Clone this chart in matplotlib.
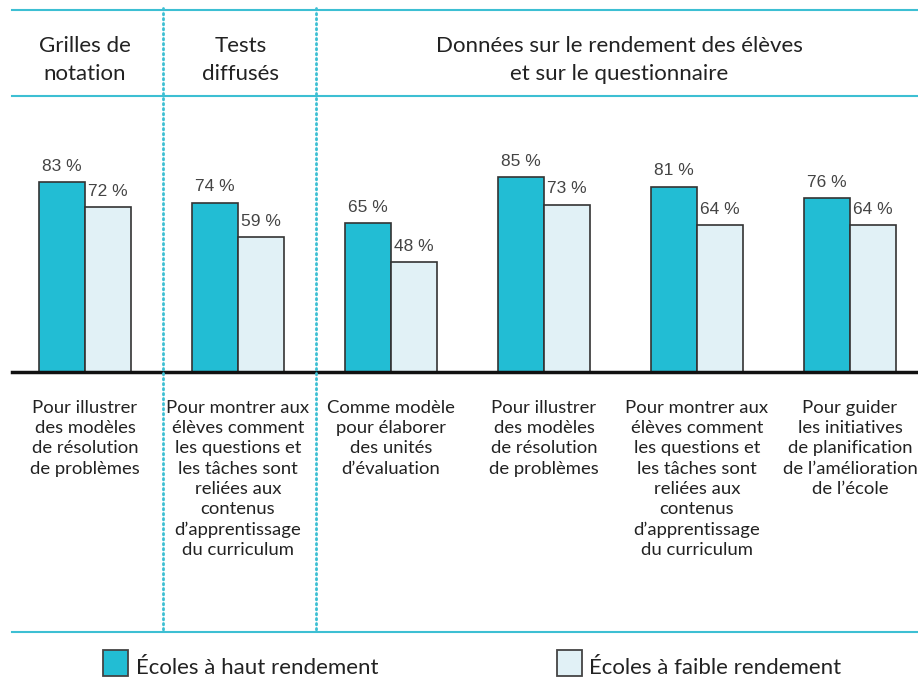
import matplotlib.pyplot as plt
from matplotlib.lines import Line2D
from matplotlib.patches import Rectangle

# données
categories = [
    "Pour illustrer\ndes modèles\nde résolution\nde problèmes",
    "Pour montrer aux\nélèves comment\nles questions et\nles tâches sont\nreliées aux\ncontenus\nd’apprentissage\ndu curriculum",
    "Comme modèle\npour élaborer\ndes unités\nd’évaluation",
    "Pour illustrer\ndes modèles\nde résolution\nde problèmes",
    "Pour montrer aux\nélèves comment\nles questions et\nles tâches sont\nreliées aux\ncontenus\nd’apprentissage\ndu curriculum",
    "Pour guider\nles initiatives\nde planification\nde l’amélioration\nde l’école",
]
haut = [83, 74, 65, 85, 81, 76]
faible = [72, 59, 48, 73, 64, 64]
headers = ["Grilles de\nnotation", "Tests\ndiffusés",
           "Données sur le rendement des élèves\net sur le questionnaire"]
legend_labels = ["Écoles à haut rendement", "Écoles à faible rendement"]

CYAN = "#22bdd4"
PALE = "#e1f1f6"
LINE = "#3dbfd3"
W, H = 918, 692

fig = plt.figure(figsize=(W / 100, H / 100), dpi=100)


def fx(px):
    return px / W


def fy(py):
    return 1 - py / H


# axe des barres : ligne de base à y=372 px, haut à y=96 px
ax = fig.add_axes([fx(12), fy(372), fx(906), (372 - 96) / H])
ax.set_xlim(-0.477, -0.477 + 906 / 153)
ax.set_ylim(0, 276 / 2.29)
ax.axis("off")

bw = 0.30
xs = list(range(len(categories)))
b1 = ax.bar([x - bw / 2 for x in xs], haut, bw, color=CYAN, edgecolor="#333333", linewidth=1.2)
b2 = ax.bar([x + bw / 2 for x in xs], faible, bw, color=PALE, edgecolor="#333333", linewidth=1.2)
for bars in (b1, b2):
    for r in bars:
        ax.annotate(f"{r.get_height():.0f} %", (r.get_x() + r.get_width() / 2, r.get_height()),
                    xytext=(0, 6), textcoords="offset points", ha="center", va="bottom",
                    fontsize=12.5, color="#444444", family="Liberation Sans")

# catégories sous l'axe
for x, lab in zip(xs, categories):
    ax.annotate(lab, (x, 0), xytext=(0, -20), textcoords="offset points", ha="center", va="top",
                fontsize=13.3, color="#222222", family="Lato", linespacing=1.33,
                annotation_clip=False)

# lignes du cadre
fig.add_artist(Line2D([fx(12), 1], [fy(10), fy(10)], color=LINE, lw=1.5))
fig.add_artist(Line2D([fx(12), 1], [fy(96), fy(96)], color=LINE, lw=1.5))
fig.add_artist(Line2D([fx(12), 1], [fy(632), fy(632)], color=LINE, lw=1.5))
fig.add_artist(Line2D([fx(12), 1], [fy(372), fy(372)], color="#111111", lw=2.5))
for px in (163, 316):
    fig.add_artist(Line2D([fx(px), fx(px)], [fy(8), fy(632)], color=LINE, lw=2,
                          linestyle=(0, (0.5, 1.3)), dash_capstyle="round"))

# en-têtes
for cx, txt in zip((85, 241, 619), headers):
    fig.text(fx(cx), fy(60), txt, ha="center", va="center", fontsize=16,
             color="#222222", family="Lato", linespacing=1.5)

# légende
for (sx, tx), lab, col in zip(((103, 136), (557, 589)), legend_labels, (CYAN, PALE)):
    fig.add_artist(Rectangle((fx(sx), fy(676)), fx(25), 26 / H, facecolor=col,
                             edgecolor="#444444", lw=1.3))
    fig.text(fx(tx), fy(674), lab, ha="left", va="baseline", fontsize=16,
             color="#222222", family="Lato")

fig.savefig("out.png", dpi=100)
